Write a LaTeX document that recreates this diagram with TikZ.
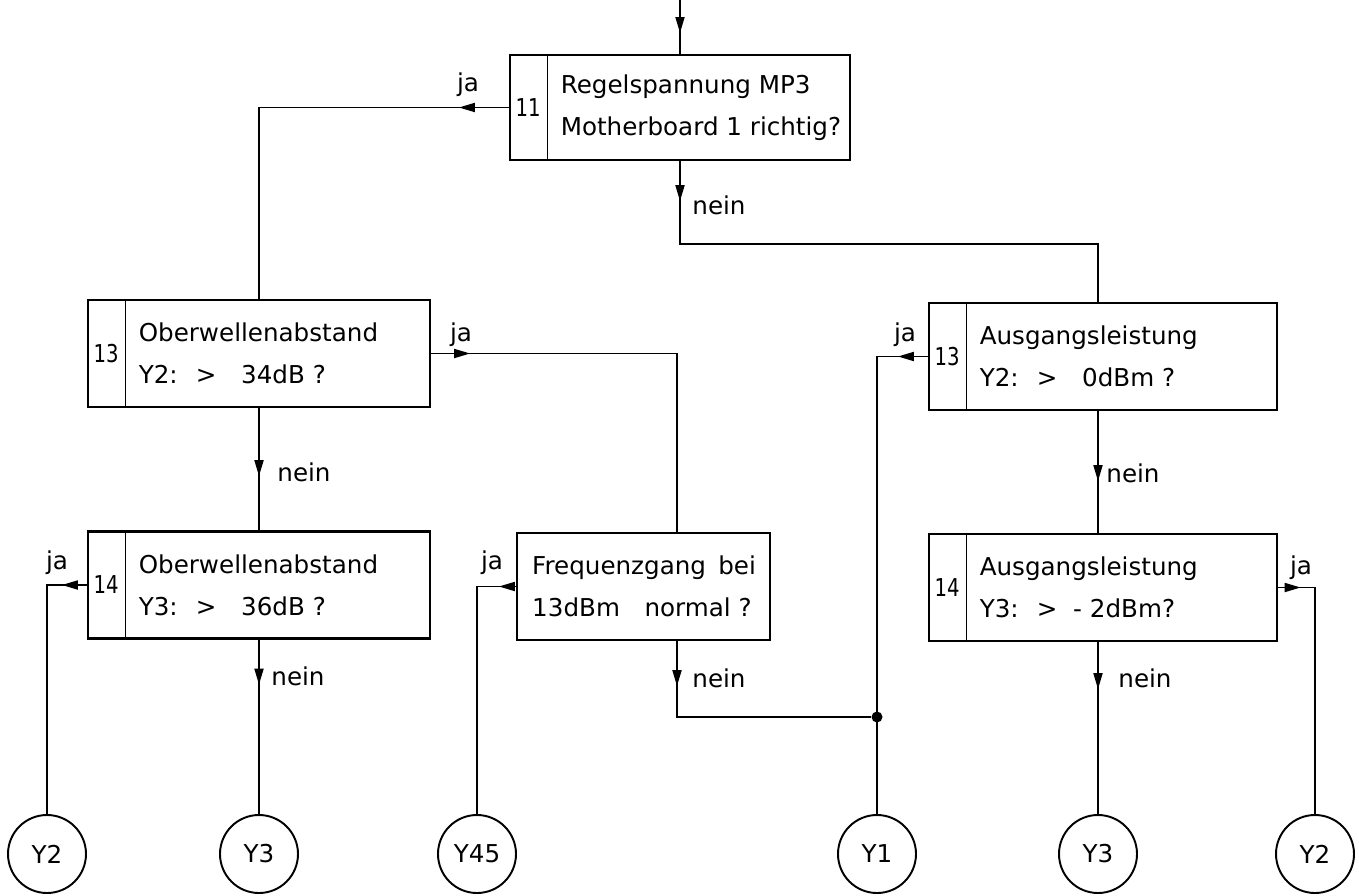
\documentclass[tikz,border=0pt]{standalone}
\usepackage{fontspec}
\setmainfont{DejaVu Sans}
\usetikzlibrary{arrows.meta,positioning,decorations.markings}
\tikzset{
  testbox/.style={draw, line width=1.3pt, minimum height=2.14cm, inner sep=0pt},
  numcell/.style={anchor=west, minimum width=0.95cm, inner sep=0pt, xscale=0.8, transform shape,
    font=\fontsize{14}{16}\selectfont},
  textcell/.style={anchor=west, align=left, inner sep=0pt, font=\fontsize{14}{24}\selectfont},
  endpoint/.style={draw, circle, line width=1.1pt, minimum size=1.56cm, inner sep=0pt, font=\fontsize{14}{16}\selectfont},
  lab/.style={inner sep=0pt, font=\fontsize{14}{16}\selectfont},
  conn/.style={line width=1pt},
  arrowat/.style={postaction={decorate}, decoration={markings,
    mark=at position #1 with {\arrow{Triangle[length=3.2mm, width=1.8mm]}}}},
  junction/.style={circle, fill, inner sep=0pt, minimum size=2.2mm},
}
\begin{document}
\begin{tikzpicture}
\useasboundingbox (0,0) rectangle (27.18,-17.92);

% Pruefschritte
\node[testbox, minimum width=6.8cm, minimum height=2.1cm] (b11) at (13.6,-2.15) {};
\node[numcell] (n11) at (b11.west) {11};
\node[textcell] (t11) at ([xshift=0.26cm]n11.east) {Regelspannung MP3\\Motherboard 1 richtig?};
\draw[conn] (n11.east |- b11.north) -- (n11.east |- b11.south);

\node[testbox, minimum width=6.84cm] (b13l) at (5.18,-7.07) {};
\node[numcell] (n13l) at (b13l.west) {13};
\node[textcell] (t13l) at ([xshift=0.26cm]n13l.east) {Oberwellenabstand\\Y2: \ >\quad 34dB ?};
\draw[conn] (n13l.east |- b13l.north) -- (n13l.east |- b13l.south);

\node[testbox, minimum width=6.84cm] (b14l) at (5.18,-11.70) {};
\node[numcell] (n14l) at (b14l.west) {14};
\node[textcell] (t14l) at ([xshift=0.26cm]n14l.east) {Oberwellenabstand\\Y3: \ >\quad 36dB ?};
\draw[conn] (n14l.east |- b14l.north) -- (n14l.east |- b14l.south);

\node[testbox, minimum width=5.06cm] (bfq) at (12.87,-11.73) {};
\node[textcell] (tfq) at ([xshift=0.32cm]bfq.west) {Frequenzgang\enspace bei\\13dBm\quad normal ?};

\node[testbox, minimum width=6.96cm] (b13r) at (22.06,-7.13) {};
\node[numcell] (n13r) at (b13r.west) {13};
\node[textcell] (t13r) at ([xshift=0.26cm]n13r.east) {Ausgangsleistung\\Y2: \ >\quad 0dBm ?};
\draw[conn] (n13r.east |- b13r.north) -- (n13r.east |- b13r.south);

\node[testbox, minimum width=6.96cm] (b14r) at (22.06,-11.75) {};
\node[numcell] (n14r) at (b14r.west) {14};
\node[textcell] (t14r) at ([xshift=0.26cm]n14r.east) {Ausgangsleistung\\Y3: \ > \ - 2dBm?};
\draw[conn] (n14r.east |- b14r.north) -- (n14r.east |- b14r.south);

% Ausgaenge
\node[endpoint] (c2l) at (0.94,-17.08) {Y2};
\node[endpoint] (c3l) at (5.18,-17.08) {Y3};
\node[endpoint] (c45) at (9.54,-17.08) {Y45};
\node[endpoint] (c1) at (17.54,-17.08) {Y1};
\node[endpoint] (c3r) at (21.96,-17.08) {Y3};
\node[endpoint] (c2r) at (26.30,-17.08) {Y2};
\node[junction] (dot) at (c1 |- 0,-14.34) {};

% Verbindungen
\coordinate (entry) at (b11.north |- 0,0);
\draw[conn, arrowat=0.66cm] (entry) -- (b11.north);
\draw[conn, arrowat=1.0cm] (b11.west) -| (b13l.north);
\draw[conn, arrowat=0.8cm] (b11.south) -- ++(0,-1.66) -| (b13r.north -| c3r);
\draw[conn, arrowat=0.78cm] (b13l.east) -| ([xshift=0.67cm]bfq.north);
\draw[conn, arrowat=1.36cm] (b13l.south) -- (b14l.north);
\draw[conn, arrowat=0.5cm] (b14l.west) -| (c2l.north);
\draw[conn, arrowat=0.9cm] (b14l.south) -- (c3l.north);
\draw[conn, arrowat=0.34cm] (bfq.west) -| (c45.north);
\draw[conn, arrowat=0.9cm] ([xshift=0.67cm]bfq.south) |- (dot);
\draw[conn, arrowat=0.6cm] (b13r.west) -| (c1.north);
\draw[conn, arrowat=1.4cm] (b13r.south -| c3r) -- (b14r.north -| c3r);
\draw[conn, arrowat=0.45cm] (b14r.east) -| (c2r.north);
\draw[conn, arrowat=0.94cm] (b14r.south -| c3r) -- (c3r.north);

% Beschriftung
\node[lab] (ja11) at (9.36,-1.70) {ja};
\node[lab] (nein11) at (14.38,-4.10) {nein};
\node[lab] (ja13l) at (9.22,-6.70) {ja};
\node[lab] (nein13l) at (6.08,-9.44) {nein};
\node[lab] (ja14l) at (1.14,-11.26) {ja};
\node[lab] (nein14l) at (5.96,-13.52) {nein};
\node[lab] (jafq) at (9.84,-11.26) {ja};
\node[lab] (neinfq) at (14.38,-13.56) {nein};
\node[lab] (ja13r) at (18.10,-6.70) {ja};
\node[lab] (nein13r) at (22.66,-9.46) {nein};
\node[lab] (ja14r) at (26.02,-11.36) {ja};
\node[lab] (nein14r) at (22.90,-13.56) {nein};

\end{tikzpicture}
\end{document}
